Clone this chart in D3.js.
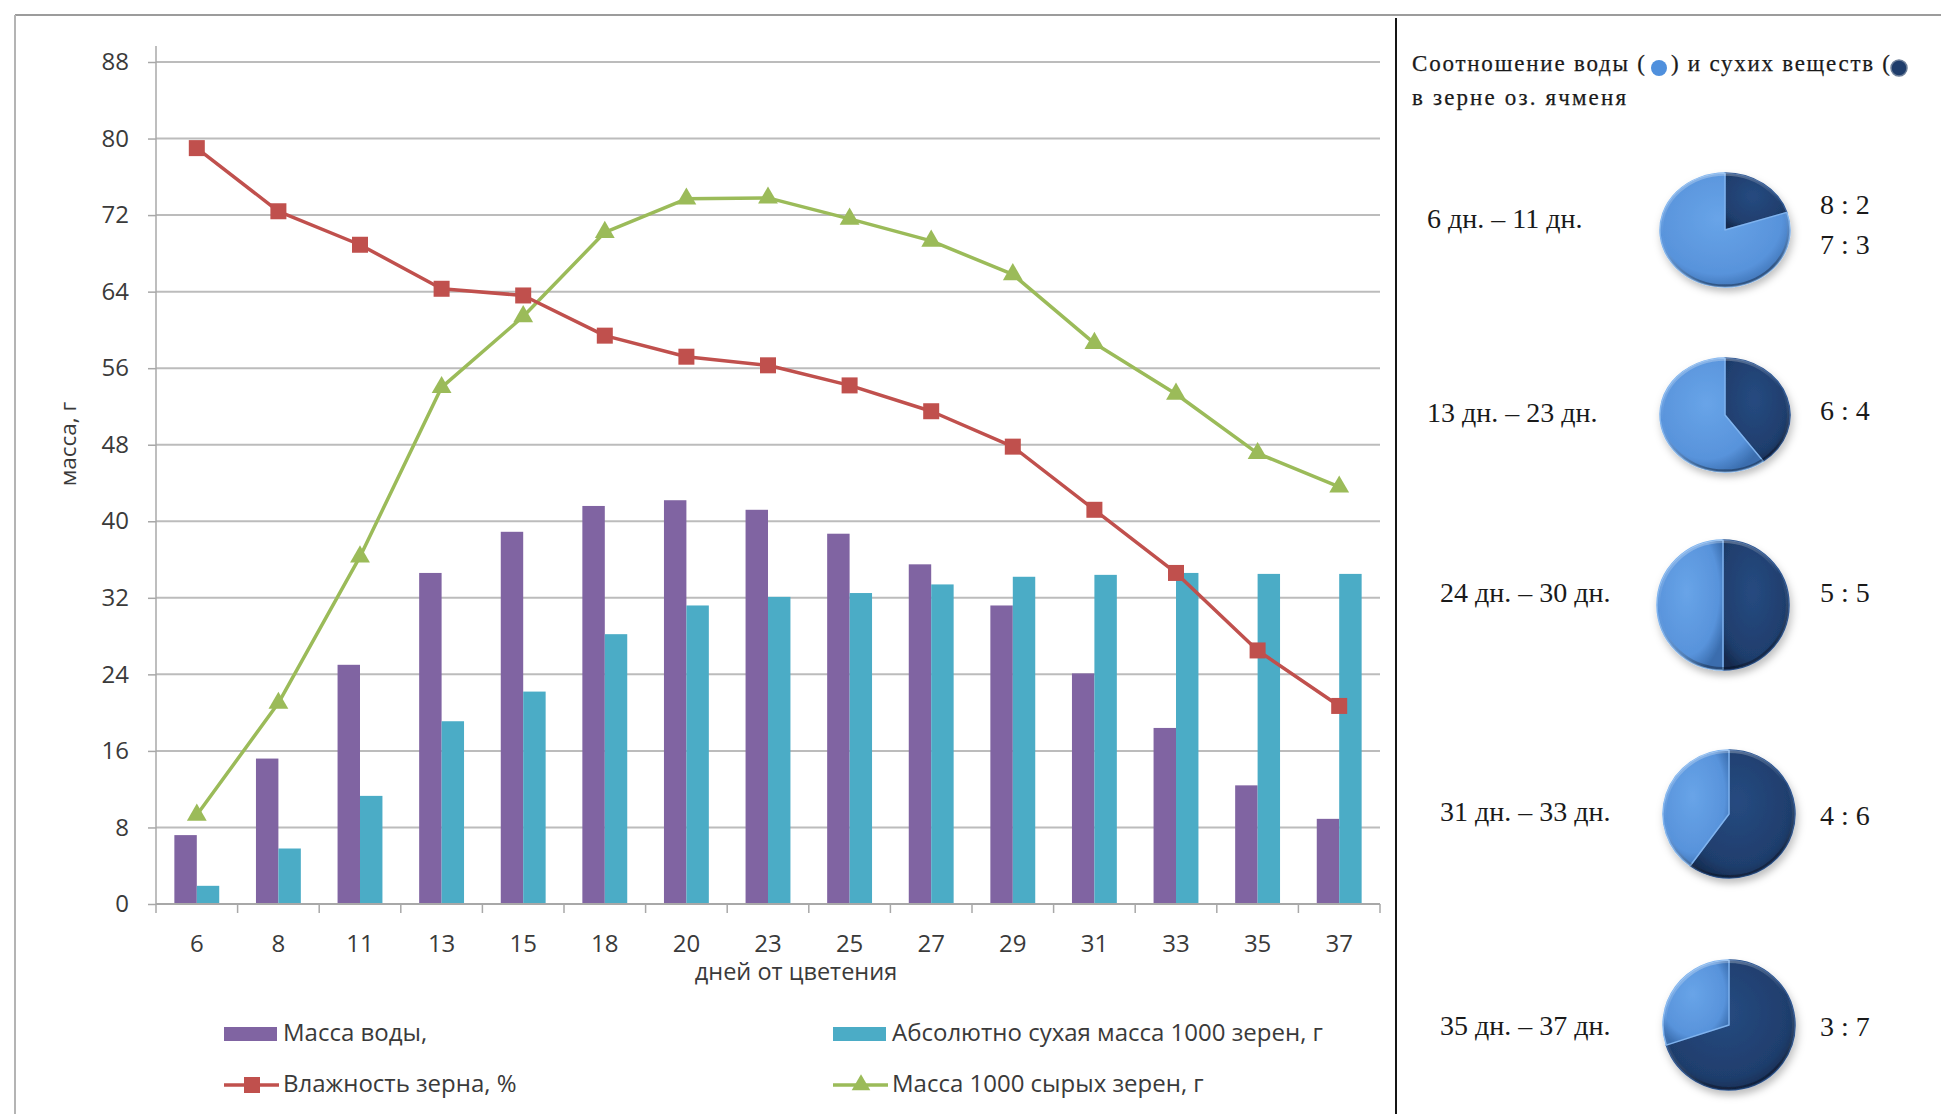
<!DOCTYPE html>
<html>
<head>
<meta charset="utf-8">
<script src="https://cdn.jsdelivr.net/npm/d3@7"></script>
<style>
  html, body { margin: 0; padding: 0; background: #ffffff; overflow: hidden; }
  svg { display: block; }
</style>
</head>
<body>
<svg id="chart" width="1941" height="1114"></svg>
<script>
// ---- data: grain filling of winter barley, days after flowering ----
const days = [6, 8, 11, 13, 15, 18, 20, 23, 25, 27, 29, 31, 33, 35, 37];
const waterMass = [7.2, 15.2, 25.0, 34.6, 38.9, 41.6, 42.2, 41.2, 38.7, 35.5, 31.2, 24.1, 18.4, 12.4, 8.9];
const dryMass = [1.9, 5.8, 11.3, 19.1, 22.2, 28.2, 31.2, 32.1, 32.5, 33.4, 34.2, 34.4, 34.6, 34.5, 34.5];
const moisture = [79.0, 72.4, 68.9, 64.3, 63.6, 59.4, 57.2, 56.3, 54.2, 51.5, 47.8, 41.2, 34.6, 26.5, 20.7];
const freshMass = [9.3, 21.0, 36.3, 54.0, 61.4, 70.2, 73.7, 73.8, 71.6, 69.3, 65.8, 58.6, 53.3, 47.1, 43.6];
const yTickValues = [0, 8, 16, 24, 32, 40, 48, 56, 64, 72, 80, 88];

const seriesNames = {
  water: "Масса воды,",
  dry: "Абсолютно сухая масса 1000 зерен, г",
  moisture: "Влажность зерна, %",
  fresh: "Масса 1000 сырых зерен, г"
};
const xTitle = "дней от цветения";
const yTitle = "масса, г";

// water : dry matter ratio in the grain by period
const periods = ["6 дн. – 11 дн.", "13 дн. – 23 дн.", "24 дн. – 30 дн.", "31 дн. – 33 дн.", "35 дн. – 37 дн."];
const waterShare = [8, 6, 5, 4, 3];
const dryShare = [2, 4, 5, 6, 7];
const ratioLabels = [["8 : 2", "7 : 3"], ["6 : 4"], ["5 : 5"], ["4 : 6"], ["3 : 7"]];

// ---- styling ----
const C = {
  water: "#8064a2", dry: "#4bacc6", moisture: "#c0504d", fresh: "#9bbb59",
  grid: "#bcbcbc", axis: "#a8a8a8", text: "#3a3a3a"
};
const SANS = "'Open Sans', 'Noto Sans', 'DejaVu Sans', sans-serif";
const SERIF = "'Liberation Serif', 'DejaVu Serif', serif";

const W = 1941, H = 1114;
const svg = d3.select("#chart");

const defs = svg.append("defs");
const shadow = defs.append("filter").attr("id", "pieShadow")
  .attr("x", "-30%").attr("y", "-30%").attr("width", "160%").attr("height", "170%");
shadow.append("feDropShadow").attr("dx", 2).attr("dy", 5).attr("stdDeviation", 4)
  .attr("flood-color", "#000").attr("flood-opacity", 0.25);

const lightGrad = defs.append("radialGradient").attr("id", "gLight")
  .attr("cx", "45%").attr("cy", "40%").attr("r", "65%");
lightGrad.append("stop").attr("offset", "0%").attr("stop-color", "#68a4e8");
lightGrad.append("stop").attr("offset", "75%").attr("stop-color", "#5893db");
lightGrad.append("stop").attr("offset", "100%").attr("stop-color", "#3a6dae");

const darkGrad = defs.append("radialGradient").attr("id", "gDark")
  .attr("cx", "45%").attr("cy", "40%").attr("r", "65%");
darkGrad.append("stop").attr("offset", "0%").attr("stop-color", "#264a80");
darkGrad.append("stop").attr("offset", "78%").attr("stop-color", "#1f3e6d");
darkGrad.append("stop").attr("offset", "100%").attr("stop-color", "#142a4e");

const rimGrad = defs.append("linearGradient").attr("id", "gRim")
  .attr("x1", "0").attr("y1", "0").attr("x2", "0.3").attr("y2", "1");
rimGrad.append("stop").attr("offset", "0%").attr("stop-color", "#ffffff").attr("stop-opacity", 0.35);
rimGrad.append("stop").attr("offset", "50%").attr("stop-color", "#ffffff").attr("stop-opacity", 0.0);
rimGrad.append("stop").attr("offset", "100%").attr("stop-color", "#000000").attr("stop-opacity", 0.3);

svg.append("rect").attr("width", W).attr("height", H).attr("fill", "#ffffff");

// frame and panel divider
svg.append("line").attr("x1", 15).attr("x2", W).attr("y1", 15).attr("y2", 15)
  .attr("stroke", "#9c9c9c").attr("stroke-width", 2);
svg.append("line").attr("x1", 15).attr("x2", 15).attr("y1", 15).attr("y2", H)
  .attr("stroke", "#b4b4b4").attr("stroke-width", 2);
svg.append("line").attr("x1", 1396).attr("x2", 1396).attr("y1", 18).attr("y2", H)
  .attr("stroke", "#151515").attr("stroke-width", 2);

// ---- combo chart ----
const plot = { left: 156, right: 1380, top: 62, bottom: 904 };
const x = d3.scaleBand().domain(days).range([plot.left, plot.right]);
const y = d3.scaleLinear().domain([0, 88]).range([plot.bottom, plot.top]);
const bw = x.bandwidth();
const inner = d3.scaleBand().domain(["water", "dry"]).range([-bw * 0.275, bw * 0.275]);
const cx = d => x(d) + bw / 2;

// horizontal gridlines
svg.append("g").selectAll("line").data(yTickValues.filter(v => v > 0)).join("line")
  .attr("x1", plot.left).attr("x2", plot.right)
  .attr("y1", d => y(d)).attr("y2", d => y(d))
  .attr("stroke", C.grid).attr("stroke-width", 2);

// y axis
const yAxis = svg.append("g").attr("transform", `translate(${plot.left},0)`)
  .call(d3.axisLeft(y).tickValues(yTickValues).tickSize(8).tickPadding(19));
yAxis.select(".domain").remove();
yAxis.selectAll(".tick line").attr("stroke", C.axis).attr("stroke-width", 1.5);
yAxis.selectAll(".tick text").attr("fill", C.text).style("font-family", SANS).style("font-size", "24px");
svg.append("line").attr("x1", plot.left).attr("x2", plot.left).attr("y1", 46).attr("y2", plot.bottom)
  .attr("stroke", C.axis).attr("stroke-width", 1.5);

// bars
const bars = svg.append("g");
bars.selectAll("rect.water").data(days).join("rect").attr("class", "water")
  .attr("x", d => cx(d) + inner("water")).attr("width", inner.bandwidth())
  .attr("y", (d, i) => y(waterMass[i])).attr("height", (d, i) => y(0) - y(waterMass[i]))
  .attr("fill", C.water);
bars.selectAll("rect.dry").data(days).join("rect").attr("class", "dry")
  .attr("x", d => cx(d) + inner("dry")).attr("width", inner.bandwidth())
  .attr("y", (d, i) => y(dryMass[i])).attr("height", (d, i) => y(0) - y(dryMass[i]))
  .attr("fill", C.dry);

// x axis
svg.append("line").attr("x1", plot.left).attr("x2", plot.right).attr("y1", y(0)).attr("y2", y(0))
  .attr("stroke", C.axis).attr("stroke-width", 2);
const edges = days.map(d => x(d)).concat([plot.right]);
svg.append("g").selectAll("line").data(edges).join("line")
  .attr("x1", d => d).attr("x2", d => d).attr("y1", y(0)).attr("y2", y(0) + 9)
  .attr("stroke", C.axis).attr("stroke-width", 1.5);
const xAxis = svg.append("g").attr("transform", `translate(0,${y(0)})`)
  .call(d3.axisBottom(x).tickSize(0).tickPadding(31));
xAxis.select(".domain").remove();
xAxis.selectAll(".tick text").attr("fill", C.text).style("font-family", SANS).style("font-size", "24px");

svg.append("text").attr("x", 796).attr("y", 974).attr("text-anchor", "middle")
  .attr("dominant-baseline", "middle").attr("fill", C.text)
  .style("font-family", SANS).style("font-size", "23.5px").text(xTitle);
svg.append("text").attr("transform", "translate(70,444) rotate(-90)").attr("text-anchor", "middle")
  .attr("dominant-baseline", "middle").attr("fill", C.text)
  .style("font-family", SANS).style("font-size", "22.5px").text(yTitle);

// lines with markers
const line = d3.line().x(d => cx(d.day)).y(d => y(d.v));
const moistPts = days.map((d, i) => ({ day: d, v: moisture[i] }));
const freshPts = days.map((d, i) => ({ day: d, v: freshMass[i] }));

svg.append("path").datum(freshPts).attr("d", line).attr("fill", "none")
  .attr("stroke", C.fresh).attr("stroke-width", 3.5).attr("stroke-linejoin", "round");
svg.append("g").selectAll("path").data(freshPts).join("path")
  .attr("transform", d => `translate(${cx(d.day)},${y(d.v)})`)
  .attr("d", d3.symbol(d3.symbolTriangle, 170)).attr("fill", C.fresh);

svg.append("path").datum(moistPts).attr("d", line).attr("fill", "none")
  .attr("stroke", C.moisture).attr("stroke-width", 3.5).attr("stroke-linejoin", "round");
svg.append("g").selectAll("rect").data(moistPts).join("rect")
  .attr("x", d => cx(d.day) - 8).attr("y", d => y(d.v) - 8)
  .attr("width", 16).attr("height", 16).attr("fill", C.moisture);

// legend
const legendItems = [
  { key: "water", type: "bar", x: 224, y: 1034 },
  { key: "dry", type: "bar", x: 833, y: 1034 },
  { key: "moisture", type: "line", x: 224, y: 1085 },
  { key: "fresh", type: "line", x: 833, y: 1085 }
];
const lg = svg.append("g").selectAll("g").data(legendItems).join("g")
  .attr("transform", d => `translate(${d.x},${d.y})`);
lg.filter(d => d.type === "bar").append("rect")
  .attr("x", 0).attr("y", -7).attr("width", 53).attr("height", 14).attr("fill", d => C[d.key]);
lg.filter(d => d.type === "line").append("line")
  .attr("x1", 0).attr("x2", 55).attr("y1", 0).attr("y2", 0)
  .attr("stroke", d => C[d.key]).attr("stroke-width", 3.5);
lg.filter(d => d.key === "moisture").append("rect")
  .attr("x", 20).attr("y", -8).attr("width", 16).attr("height", 16).attr("fill", C.moisture);
lg.filter(d => d.key === "fresh").append("path")
  .attr("transform", "translate(28,0)").attr("d", d3.symbol(d3.symbolTriangle, 150)).attr("fill", C.fresh);
lg.append("text").attr("x", 59).attr("y", 1).attr("dominant-baseline", "middle")
  .attr("fill", C.text).style("font-family", SANS).style("font-size", "24px")
  .text(d => seriesNames[d.key]);

// ---- side panel: water / dry matter ratio ----
const side = svg.append("g").style("font-family", SERIF).attr("fill", "#1a1a1a");
const t1 = side.append("g").attr("stroke", "#1a1a1a").attr("stroke-width", 0.25);
t1.append("text").attr("x", 1412).attr("y", 66).attr("dominant-baseline", "middle")
  .attr("textLength", 233).attr("lengthAdjust", "spacing")
  .style("font-size", "23px").text("Соотношение воды (");
t1.append("circle").attr("cx", 1659).attr("cy", 68).attr("r", 8).attr("fill", "#4f90dd").attr("stroke", "none");
t1.append("text").attr("x", 1671).attr("y", 66).attr("dominant-baseline", "middle")
  .attr("textLength", 219).attr("lengthAdjust", "spacing")
  .style("font-size", "23px").text(") и сухих веществ (");
t1.append("circle").attr("cx", 1899).attr("cy", 68).attr("r", 8).attr("fill", "#1f3d6b")
  .attr("stroke", "#6d7f99").attr("stroke-width", 1.5);
t1.append("text").attr("x", 1412).attr("y", 100).attr("dominant-baseline", "middle")
  .attr("textLength", 214).attr("lengthAdjust", "spacing")
  .style("font-size", "23px").text("в  зерне оз. ячменя");

const pieLayout = [
  { cx: 1725, cy: 230, rx: 65, ry: 57, lx: 1427, ty: 222 },
  { cx: 1725, cy: 415, rx: 65, ry: 57, lx: 1427, ty: 416 },
  { cx: 1723, cy: 605, rx: 66, ry: 65, lx: 1440, ty: 596 },
  { cx: 1729, cy: 814, rx: 66, ry: 64, lx: 1440, ty: 815 },
  { cx: 1729, cy: 1025, rx: 66, ry: 65, lx: 1440, ty: 1029 }
];
const ratioY = [[208, 248], [414], [596], [819], [1030]];
const pie = d3.pie().sort(null).value(d => d.v);
const arc = d3.arc().innerRadius(0);

periods.forEach((p, i) => {
  const L = pieLayout[i];
  const g = side.append("g")
    .attr("transform", `translate(${L.cx},${L.cy}) scale(1,${L.ry / L.rx})`)
    .attr("filter", "url(#pieShadow)");
  const arcs = pie([{ k: "dry", v: dryShare[i] }, { k: "water", v: waterShare[i] }]);
  arc.outerRadius(L.rx);
  g.selectAll("path.slice").data(arcs).join("path").attr("class", "slice")
    .attr("d", arc)
    .attr("fill", d => d.data.k === "dry" ? "url(#gDark)" : "url(#gLight)")
    .attr("stroke", d => d.data.k === "dry" ? "#2d5590" : "#7fb3ee")
    .attr("stroke-width", 1.5).attr("stroke-linejoin", "round");
  g.append("circle").attr("r", L.rx - 1.5).attr("fill", "none")
    .attr("stroke", "url(#gRim)").attr("stroke-width", 3);

  side.append("text").attr("x", L.lx).attr("y", L.ty).attr("dominant-baseline", "middle")
    .style("font-size", "28px").text(p);
  ratioLabels[i].forEach((t, j) => {
    side.append("text").attr("x", 1820).attr("y", ratioY[i][j]).attr("dominant-baseline", "middle")
      .style("font-size", "28px").text(t);
  });
});
</script>
</body>
</html>
